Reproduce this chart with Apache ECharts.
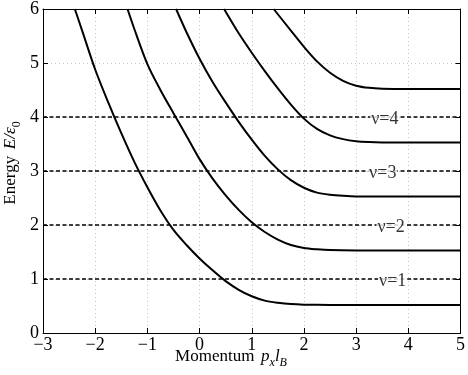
<!DOCTYPE html>
<html>
<head>
<meta charset="utf-8">
<script src="https://cdn.jsdelivr.net/npm/echarts@6/dist/echarts.min.js"></script>
<style>
  html, body { margin: 0; padding: 0; background: #fff; }
  #chart { width: 468px; height: 375px; }
</style>
</head>
<body>
<div id="chart"></div>
<script>
// edge-state dispersion: five Landau levels bending up near the edge
const level0 = [[-2.39, 6], [-2.25, 5.6], [-2.0, 4.88], [-1.75, 4.27], [-1.5, 3.7], [-1.25, 3.17], [-1.0, 2.7], [-0.75, 2.27], [-0.5, 1.91], [-0.25, 1.63], [0.0, 1.38], [0.25, 1.16], [0.5, 0.96], [0.75, 0.8], [1.0, 0.68], [1.25, 0.6], [1.5, 0.56], [1.75, 0.535], [2.0, 0.525], [2.5, 0.52], [5, 0.52]];
const level1 = [[-1.38, 6], [-1.25, 5.63], [-1.0, 4.98], [-0.75, 4.5], [-0.5, 4.07], [-0.25, 3.65], [0.0, 3.22], [0.25, 2.86], [0.5, 2.55], [0.75, 2.28], [1.0, 2.05], [1.25, 1.87], [1.5, 1.73], [1.75, 1.63], [2.0, 1.575], [2.25, 1.55], [2.5, 1.535], [3.0, 1.53], [5, 1.53]];
const level2 = [[-0.45, 6], [-0.25, 5.57], [0.0, 5.08], [0.25, 4.65], [0.5, 4.27], [0.75, 3.91], [1.0, 3.58], [1.25, 3.28], [1.5, 3.03], [1.75, 2.83], [2.0, 2.69], [2.25, 2.6], [2.5, 2.56], [2.75, 2.54], [3.0, 2.53], [5, 2.53]];
const level3 = [[0.47, 6], [0.75, 5.55], [1.0, 5.19], [1.25, 4.85], [1.5, 4.53], [1.75, 4.23], [2.0, 3.97], [2.25, 3.78], [2.5, 3.66], [2.75, 3.59], [3.0, 3.55], [3.25, 3.535], [3.5, 3.53], [5, 3.53]];
const level4 = [[1.42, 6], [1.75, 5.6], [2.0, 5.3], [2.25, 5.03], [2.5, 4.82], [2.75, 4.67], [3.0, 4.58], [3.25, 4.54], [3.5, 4.525], [4.0, 4.52], [5, 4.52]];

// filling factors (dashed Fermi levels) and where their labels sit
const nuLevels = [1, 2, 3, 4];
const nuLabelX = [3.70, 3.67, 3.51, 3.55];
const xTicks = [-3, 5];
const yTicks = [0, 6];

const FONT = '"Liberation Serif", "DejaVu Serif", serif';
const chart = echarts.init(document.getElementById('chart'));

const curveSeries = [level0, level1, level2, level3, level4].map(d => ({
  type: 'line',
  data: d,
  smooth: 0.3,
  showSymbol: false,
  silent: true,
  lineStyle: { color: '#000', width: 2 },
  z: 3,
}));

const dashSeries = nuLevels.map(v => ({
  type: 'line',
  data: [[xTicks[0], v], [xTicks[1], v]],
  showSymbol: false,
  silent: true,
  lineStyle: { color: '#000', width: 1.6, type: [4, 2.5] },
  z: 2,
}));

const labelSeries = {
  type: 'scatter',
  symbolSize: 0,
  silent: true,
  z: 5,
  data: nuLevels.map((v, i) => ({ value: [nuLabelX[i], v], name: 'ν=' + v })),
  label: {
    show: true,
    position: 'inside',
    formatter: p => p.name,
    fontFamily: FONT,
    fontSize: 18,
    color: '#000',
    backgroundColor: '#fff',
    padding: [0, 1],
    offset: [0, 2],
  },
};

const tickFmt = v => String(v).replace('-', '\u2212');

const baseAxis = (min, max) => ({
  type: 'value',
  min, max, interval: 1,
  axisLine: { show: true, onZero: false, lineStyle: { color: '#000', width: 1 } },
  axisTick: { show: true, inside: true, length: 5, lineStyle: { color: '#000' } },
});

const subRich = {
  n: { fontFamily: FONT, fontSize: 17, color: '#000', lineHeight: 24 },
  i: { fontFamily: FONT, fontSize: 17, fontStyle: 'italic', color: '#000', lineHeight: 24 },
  s: { fontFamily: FONT, fontSize: 12, fontStyle: 'italic', color: '#000', lineHeight: 12, verticalAlign: 'bottom' },
  r: { fontFamily: FONT, fontSize: 12, color: '#000', lineHeight: 12, verticalAlign: 'bottom' },
};

chart.setOption({
  animation: false,
  backgroundColor: '#fff',
  grid: { left: 43, right: 5, top: 5, bottom: 42 },
  xAxis: [
    Object.assign(baseAxis(xTicks[0], xTicks[1]), {
      position: 'bottom',
      axisLabel: { fontFamily: FONT, fontSize: 18, color: '#000', margin: 3, formatter: tickFmt },
      splitLine: { show: true, lineStyle: { color: '#c4c4c4', type: [1, 3], width: 1 } },
    }),
    Object.assign(baseAxis(xTicks[0], xTicks[1]), {
      position: 'top',
      axisLabel: { show: false },
      splitLine: { show: false },
    }),
  ],
  yAxis: [
    Object.assign(baseAxis(yTicks[0], yTicks[1]), {
      position: 'left',
      axisLabel: { fontFamily: FONT, fontSize: 18, color: '#000', margin: 4 },
      splitLine: { show: true, lineStyle: { color: '#c4c4c4', type: [1, 3], width: 1 } },
    }),
    Object.assign(baseAxis(yTicks[0], yTicks[1]), {
      position: 'right',
      axisLabel: { show: false },
      splitLine: { show: false },
    }),
  ],
  graphic: [
    {
      type: 'text',
      x: 231, y: 357,
      style: {
        text: '{n|Momentum}  {i|p}{s|x}{i|l}{s|B}',
        rich: subRich,
        align: 'center',
        verticalAlign: 'middle',
      },
    },
    {
      type: 'text',
      x: 11, y: 163,
      rotation: Math.PI / 2,
      style: {
        text: '{n|Energy}  {i|E/ε}{r|0}',
        rich: subRich,
        align: 'center',
        verticalAlign: 'middle',
      },
    },
  ],
  series: [...dashSeries, ...curveSeries, labelSeries],
});
</script>
</body>
</html>
